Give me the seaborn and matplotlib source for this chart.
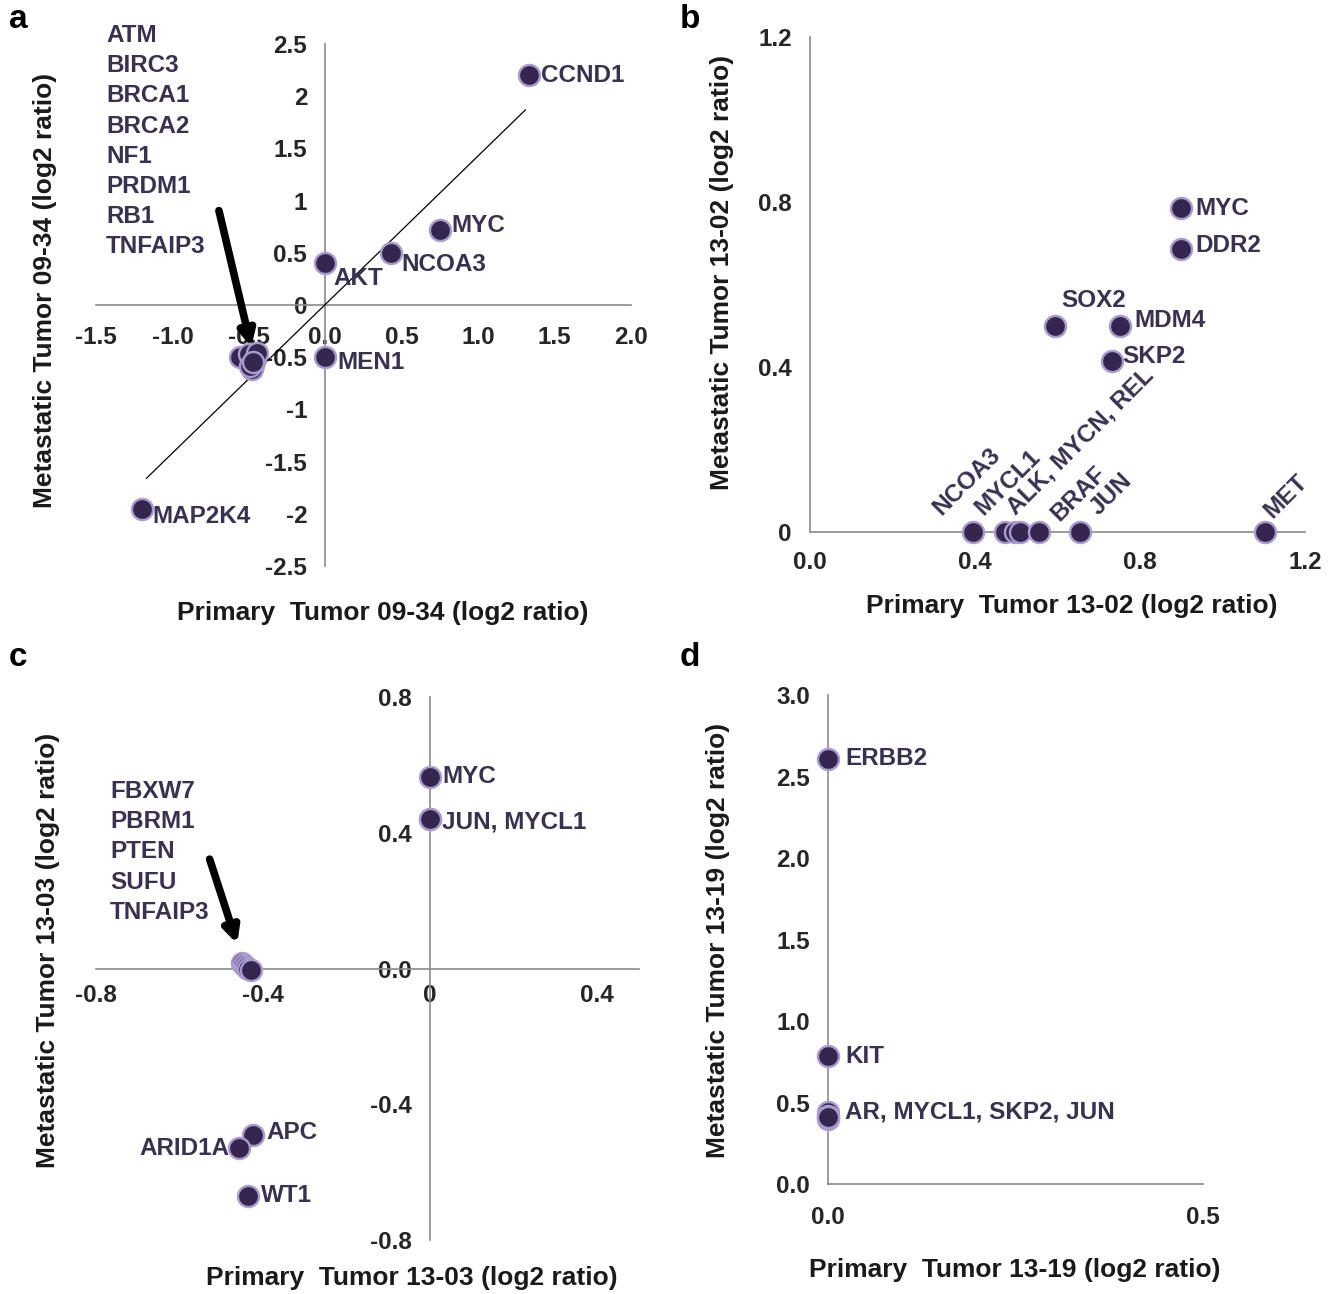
import matplotlib
matplotlib.use("Agg")
import matplotlib.pyplot as plt
import seaborn as sns
import pandas as pd

# ---- panel a: tumor 09-34 ----
a_genes = ["CCND1", "MYC", "NCOA3", "AKT", "MEN1", "MAP2K4",
           "ATM", "BIRC3", "BRCA1", "BRCA2", "NF1", "PRDM1", "RB1", "TNFAIP3"]
a_primary = [1.33, 0.75, 0.43, 0.0, 0.0, -1.2,
             -0.56, -0.50, -0.46, -0.45, -0.47, -0.48, -0.49, -0.47]
a_metastatic = [2.2, 0.72, 0.5, 0.4, -0.5, -1.95,
                -0.5, -0.47, -0.52, -0.46, -0.57, -0.61, -0.58, -0.55]
a_trend_x = [-1.17, 1.31]
a_trend_y = [-1.66, 1.87]
a_cluster = ["ATM", "BIRC3", "BRCA1", "BRCA2", "NF1", "PRDM1", "RB1", "TNFAIP3"]

# ---- panel b: tumor 13-02 ----
b_genes = ["MYC", "DDR2", "SOX2", "MDM4", "SKP2",
           "NCOA3", "MYCL1", "ALK", "MYCN", "BRAF", "JUN", "MET"]
b_primary = [0.9, 0.9, 0.595, 0.752, 0.732,
             0.395, 0.473, 0.497, 0.51, 0.556, 0.655, 1.103]
b_metastatic = [0.785, 0.686, 0.5, 0.5, 0.415,
                0.0, 0.0, 0.0, 0.0, 0.0, 0.0, 0.0]

# ---- panel c: tumor 13-03 ----
c_genes = ["MYC", "JUN", "MYCL1", "APC", "ARID1A", "WT1",
           "FBXW7", "PBRM1", "PTEN", "SUFU", "TNFAIP3"]
c_primary = [0.0, 0.0, 0.0, -0.424, -0.457, -0.436,
             -0.45, -0.445, -0.44, -0.435, -0.43]
c_metastatic = [0.565, 0.44, 0.44, -0.49, -0.53, -0.67,
                0.015, 0.01, 0.005, 0.0, -0.005]
c_cluster = ["FBXW7", "PBRM1", "PTEN", "SUFU", "TNFAIP3"]

# ---- panel d: tumor 13-19 ----
d_genes = ["ERBB2", "KIT", "AR", "MYCL1", "SKP2", "JUN"]
d_primary = [0.0, 0.0, 0.0, 0.0, 0.0, 0.0]
d_metastatic = [2.61, 0.785, 0.44, 0.42, 0.40, 0.41]

W, H = 1331, 1294
FACE = "#35264f"
EDGE = "#a99bd0"
TXT = "#3a3050"
SPINE = "#8a8a8a"
FS = 17.5

sns.set_style("white")
plt.rcParams["font.family"] = ["Liberation Sans", "DejaVu Sans"]
plt.rcParams["font.weight"] = "bold"

fig = plt.figure(figsize=(W / 100, H / 100), dpi=100)


def px_axes(x0, y0, x1, y1):
    # pixel box (left, top, right, bottom) -> axes
    return fig.add_axes([x0 / W, 1 - y1 / H, (x1 - x0) / W, (y1 - y0) / H])


def style(ax, zero=False):
    for s in ["top", "right"]:
        ax.spines[s].set_visible(False)
    for s in ["left", "bottom"]:
        ax.spines[s].set_color(SPINE)
        ax.spines[s].set_linewidth(1.2)
        if zero:
            ax.spines[s].set_position(("data", 0))
    ax.tick_params(axis="both", direction="out", length=5, width=1.1,
                   color=SPINE, labelsize=FS, pad=5)
    for lab in ax.get_xticklabels() + ax.get_yticklabels():
        lab.set_fontweight("bold")


def dots(ax, x, y, genes):
    df = pd.DataFrame({"x": x, "y": y, "gene": genes})
    sns.scatterplot(data=df, x="x", y="y", ax=ax, s=230, color=FACE,
                    edgecolor=EDGE, linewidth=1.7, zorder=5, clip_on=False,
                    legend=False)
    ax.set_xlabel("")
    ax.set_ylabel("")


def tag(ax, genes, xs, ys, gene, text, dx, dy, **kw):
    i = genes.index(gene)
    opts = dict(ha="left", va="center", fontsize=FS, fontweight="bold", color=TXT)
    opts.update(kw)
    ax.annotate(text, (xs[i], ys[i]), xytext=(dx * 0.72, dy * 0.72),
                textcoords="offset points", zorder=6, **opts)


arrow = dict(arrowstyle="-|>,head_length=0.9,head_width=0.45", color="black", lw=5.5)

# ---------- a ----------
ax = px_axes(96, 44, 631, 566)
sns.lineplot(x=a_trend_x, y=a_trend_y, ax=ax, color="black", lw=0.9, zorder=3)
dots(ax, a_primary, a_metastatic, a_genes)
ax.set_xlim(-1.5, 2.0)
ax.set_ylim(-2.5, 2.5)
ax.set_xticks([-1.5, -1.0, -0.5, 0.0, 0.5, 1.0, 1.5, 2.0])
ax.set_xticklabels(["-1.5", "-1.0", "-0.5", "0.0", "0.5", "1.0", "1.5", "2.0"])
ax.set_yticks([-2.5, -2, -1.5, -1, -0.5, 0, 0.5, 1, 1.5, 2, 2.5])
ax.set_yticklabels(["-2.5", "-2", "-1.5", "-1", "-0.5", "0", "0.5", "1", "1.5", "2", "2.5"])
style(ax, zero=True)
ax.tick_params(axis="y", pad=8)
ax.tick_params(axis="x", pad=10)
tag(ax, a_genes, a_primary, a_metastatic, "CCND1", "CCND1", 12, 0)
tag(ax, a_genes, a_primary, a_metastatic, "MYC", "MYC", 11, 4)
tag(ax, a_genes, a_primary, a_metastatic, "NCOA3", "NCOA3", 10, -12)
tag(ax, a_genes, a_primary, a_metastatic, "AKT", "AKT", 8, -15)
tag(ax, a_genes, a_primary, a_metastatic, "MEN1", "MEN1", 12, -5)
tag(ax, a_genes, a_primary, a_metastatic, "MAP2K4", "MAP2K4", 11, -8)
ax.text(106 / W, 1 - 24 / H, "\n".join(a_cluster), transform=fig.transFigure,
        ha="left", va="top", fontsize=FS, fontweight="bold", color=TXT,
        linespacing=1.40)
ax.annotate("", xy=(-0.48, -0.43), xytext=(-0.70, 0.93), arrowprops=arrow, zorder=7)

# ---------- b ----------
ax = px_axes(810, 37, 1305, 532)
dots(ax, b_primary, b_metastatic, b_genes)
ax.set_xlim(0, 1.2)
ax.set_ylim(0, 1.2)
ax.set_xticks([0.0, 0.4, 0.8, 1.2])
ax.set_xticklabels(["0.0", "0.4", "0.8", "1.2"])
ax.set_yticks([0, 0.4, 0.8, 1.2])
ax.set_yticklabels(["0", "0.4", "0.8", "1.2"])
style(ax)
ax.tick_params(axis="x", pad=9)
ax.tick_params(axis="y", pad=8)
tag(ax, b_genes, b_primary, b_metastatic, "MYC", "MYC", 14, 0)
tag(ax, b_genes, b_primary, b_metastatic, "DDR2", "DDR2", 14, 4)
tag(ax, b_genes, b_primary, b_metastatic, "SOX2", "SOX2", 38, 25, ha="center")
tag(ax, b_genes, b_primary, b_metastatic, "MDM4", "MDM4", 14, 5)
tag(ax, b_genes, b_primary, b_metastatic, "SKP2", "SKP2", 10, 4)
rot = dict(rotation=45, rotation_mode="anchor", va="baseline")
tag(ax, b_genes, b_primary, b_metastatic, "NCOA3", "NCOA3", -32, 16, **rot)
tag(ax, b_genes, b_primary, b_metastatic, "MYCL1", "MYCL1", -22, 16, **rot)
tag(ax, b_genes, b_primary, b_metastatic, "ALK", "ALK, MYCN, REL", 1, 16, **rot)
tag(ax, b_genes, b_primary, b_metastatic, "BRAF", "BRAF", 20, 10, **rot)
tag(ax, b_genes, b_primary, b_metastatic, "JUN", "JUN", 18, 16, **rot)
tag(ax, b_genes, b_primary, b_metastatic, "MET", "MET", 7, 13, **rot)

# ---------- c ----------
ax = px_axes(96, 697, 639, 1240)
dots(ax, c_primary, c_metastatic, c_genes)
ax.set_xlim(-0.8, 0.5)
ax.set_ylim(-0.8, 0.8)
ax.set_xticks([-0.8, -0.4, 0.0, 0.4])
ax.set_xticklabels(["-0.8", "-0.4", "0", "0.4"])
ax.set_yticks([-0.8, -0.4, 0.0, 0.4, 0.8])
ax.set_yticklabels(["-0.8", "-0.4", "0.0", "0.4", "0.8"])
style(ax, zero=True)
ax.tick_params(axis="y", pad=8)
ax.tick_params(axis="x", pad=6)
tag(ax, c_genes, c_primary, c_metastatic, "MYC", "MYC", 12, 0)
tag(ax, c_genes, c_primary, c_metastatic, "JUN", "JUN, MYCL1", 12, -3)
tag(ax, c_genes, c_primary, c_metastatic, "APC", "APC", 13, 2)
tag(ax, c_genes, c_primary, c_metastatic, "ARID1A", "ARID1A", -10, 0, ha="right")
tag(ax, c_genes, c_primary, c_metastatic, "WT1", "WT1", 13, 0)
ax.text(110 / W, 1 - 780 / H, "\n".join(c_cluster), transform=fig.transFigure,
        ha="left", va="top", fontsize=FS, fontweight="bold", color=TXT,
        linespacing=1.40)
ax.annotate("", xy=(-0.46, 0.065), xytext=(-0.53, 0.33), arrowprops=arrow, zorder=7)

# ---------- d ----------
ax = px_axes(828, 695, 1203, 1184)
dots(ax, d_primary, d_metastatic, d_genes)
ax.set_xlim(0, 0.5)
ax.set_ylim(0, 3.0)
ax.set_xticks([0.0, 0.5])
ax.set_xticklabels(["0.0", "0.5"])
ax.set_yticks([0.0, 0.5, 1.0, 1.5, 2.0, 2.5, 3.0])
ax.set_yticklabels(["0.0", "0.5", "1.0", "1.5", "2.0", "2.5", "3.0"])
style(ax)
ax.tick_params(axis="x", length=0, pad=16)
ax.tick_params(axis="y", pad=8)
tag(ax, d_genes, d_primary, d_metastatic, "ERBB2", "ERBB2", 17, 0)
tag(ax, d_genes, d_primary, d_metastatic, "KIT", "KIT", 17, 0)
tag(ax, d_genes, d_primary, d_metastatic, "AR", "AR, MYCL1, SKP2, JUN", 17, 0)

# ---------- axis titles and panel letters ----------
lab = dict(fontsize=19, fontweight="bold", color="#1a1a1a", ha="center", va="center")
fig.text(383 / W, 1 - 613 / H, "Primary  Tumor 09-34 (log2 ratio)", **lab)
fig.text(45 / W, 1 - 290 / H, "Metastatic Tumor 09-34 (log2 ratio)", rotation=90, **lab)
fig.text(1072 / W, 1 - 606 / H, "Primary  Tumor 13-02 (log2 ratio)", **lab)
fig.text(722 / W, 1 - 272 / H, "Metastatic Tumor 13-02 (log2 ratio)", rotation=90, **lab)
fig.text(412 / W, 1 - 1278 / H, "Primary  Tumor 13-03 (log2 ratio)", **lab)
fig.text(48 / W, 1 - 950 / H, "Metastatic Tumor 13-03 (log2 ratio)", rotation=90, **lab)
fig.text(1015 / W, 1 - 1270 / H, "Primary  Tumor 13-19 (log2 ratio)", **lab)
fig.text(718 / W, 1 - 940 / H, "Metastatic Tumor 13-19 (log2 ratio)", rotation=90, **lab)

let = dict(fontsize=24, fontweight="bold", color="black", ha="center", va="center")
fig.text(18 / W, 1 - 20 / H, "a", **let)
fig.text(690 / W, 1 - 20 / H, "b", **let)
fig.text(18 / W, 1 - 658 / H, "c", **let)
fig.text(690 / W, 1 - 658 / H, "d", **let)

fig.savefig("out.png", dpi=100, facecolor="white")
